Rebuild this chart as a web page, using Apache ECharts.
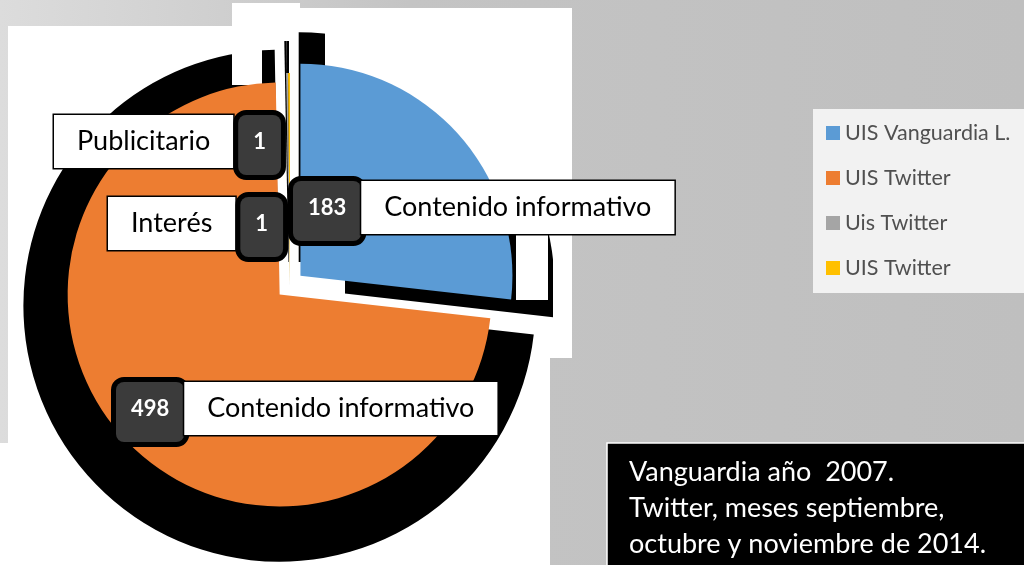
<!DOCTYPE html>
<html>
<head>
<meta charset="utf-8">
<script src="https://cdn.jsdelivr.net/npm/echarts@6/dist/echarts.min.js"></script>
<style>
html, body { margin: 0; padding: 0; }
#chart { width: 1024px; height: 565px; }
</style>
</head>
<body>
<div id="chart"></div>
<script>
// datos del grafico
var legendNames = ['UIS Vanguardia L.', 'UIS Twitter', 'Uis Twitter', 'UIS Twitter '];
var values = [183, 498, 1, 1];
var labelNames = ['Contenido informativo', 'Contenido informativo', 'Interés', 'Publicitario'];
var colors = ['#5b9bd5', '#ed7d31', '#a5a5a5', '#ffc000'];
var noteLines = ['Vanguardia año  2007.', 'Twitter, meses septiembre,', 'octubre y noviembre de 2014.'];

// posicion (esquina sup. izq.) de cada etiqueta
var labelPos = [[293, 181], [116, 382], [108, 197], [54, 115]];

var myChart = echarts.init(document.getElementById('chart'));

function pieData(sel) {
    return values.map(function (v, i) {
        return { value: v, name: legendNames[i], selected: sel && i < 2 };
    });
}

// rectangulos blancos del fondo
function whiteRect(x, y, w, h, z) {
    return { type: 'rect', z: z, silent: true, shape: { x: x, y: y, width: w, height: h }, style: { fill: '#fff' } };
}

var option = {
    backgroundColor: {
        type: 'linear', x: 0, y: 0, x2: 1, y2: 0,
        colorStops: [{ offset: 0, color: '#dcdcdc' }, { offset: 0.4, color: '#c4c4c4' }, { offset: 1, color: '#bfbfbf' }]
    },
    color: colors,
    title: {
        text: noteLines.join('\n'),
        left: 607,
        top: 443,
        backgroundColor: '#000',
        borderColor: '#fff',
        borderWidth: 1.5,
        padding: [11, 50, 20, 22],
        textStyle: { color: '#fff', fontFamily: 'Lato', fontSize: 27, fontWeight: 'normal', lineHeight: 36 }
    },
    legend: {
        orient: 'vertical',
        left: 813,
        top: 109,
        backgroundColor: '#f2f2f2',
        padding: [13, 20, 14, 13],
        itemWidth: 14,
        itemHeight: 14,
        itemGap: 23,
        icon: 'rect',
        data: legendNames,
        textStyle: { color: '#505050', fontFamily: 'Lato', fontSize: 21.5, lineHeight: 20 }
    },
    graphic: [
        whiteRect(8, 26, 564, 332, 0),
        whiteRect(232, 3, 68, 30, 0),
        whiteRect(300, 8, 272, 25, 0),
        whiteRect(8, 358, 542, 207, 0),
        whiteRect(0, 443, 8, 122, 0),
        // tapan partes de la sombra
        whiteRect(325, 8, 223, 227, 2),
        whiteRect(232, 3, 30, 82, 2),
        whiteRect(516, 235, 32, 65, 2),
        whiteRect(278, 262, 67, 38, 2),
        whiteRect(553, 26, 19, 332, 2)
    ],
    series: [
        {
            name: 'UIS',
            type: 'pie',
            z: 3,
            center: [290, 285],
            radius: 212,
            startAngle: 90,
            clockwise: true,
            selectedMode: 'multiple',
            selectedOffset: 14,
            animation: false,
            data: pieData(true),
            label: { show: false },
            labelLine: { show: false },
            emphasis: { disabled: true }
        },
        {
            // sombra negra detras del pastel
            name: 'sombra',
            type: 'pie',
            z: 1,
            silent: true,
            center: [289, 297],
            radius: 256,
            startAngle: 90,
            clockwise: true,
            selectedMode: 'multiple',
            selectedOffset: 13,
            animation: false,
            data: pieData(true),
            itemStyle: { color: '#000' },
            label: { show: false },
            labelLine: { show: false },
            emphasis: { disabled: true }
        },
        {
            // capa transparente con las etiquetas de datos
            name: 'etiquetas',
            type: 'pie',
            z: 4,
            silent: true,
            center: [290, 285],
            radius: 212,
            startAngle: 90,
            clockwise: true,
            animation: false,
            data: pieData(false),
            itemStyle: { color: 'rgba(0,0,0,0)' },
            label: {
                show: true,
                position: 'inside',
                formatter: function (p) {
                    var i = p.dataIndex;
                    if (i >= 2) {
                        return '{name|' + labelNames[i] + '}{gap|}{num|' + p.value + '}';
                    }
                    return '{num|' + p.value + '}{name|' + labelNames[i] + '}';
                },
                rich: {
                    num: {
                        color: '#fff', fontFamily: 'Lato', fontWeight: 'bold', fontSize: 22,
                        backgroundColor: '#3b3b3b', borderColor: '#000', borderWidth: 5, borderRadius: 8,
                        padding: [16, 15, 22, 15], verticalAlign: 'top'
                    },
                    name: {
                        color: '#000', fontFamily: 'Lato', fontSize: 27,
                        backgroundColor: '#fff', borderColor: '#000', borderWidth: 1.5,
                        padding: [13, 23, 13, 23], verticalAlign: 'top'
                    },
                    gap: { width: 5 }
                }
            },
            labelLine: { show: false },
            labelLayout: function (params) {
                var p = labelPos[params.dataIndex];
                return { x: p[0], y: p[1], align: 'left', verticalAlign: 'top' };
            },
            emphasis: { disabled: true }
        }
    ]
};

myChart.setOption(option);
</script>
</body>
</html>
